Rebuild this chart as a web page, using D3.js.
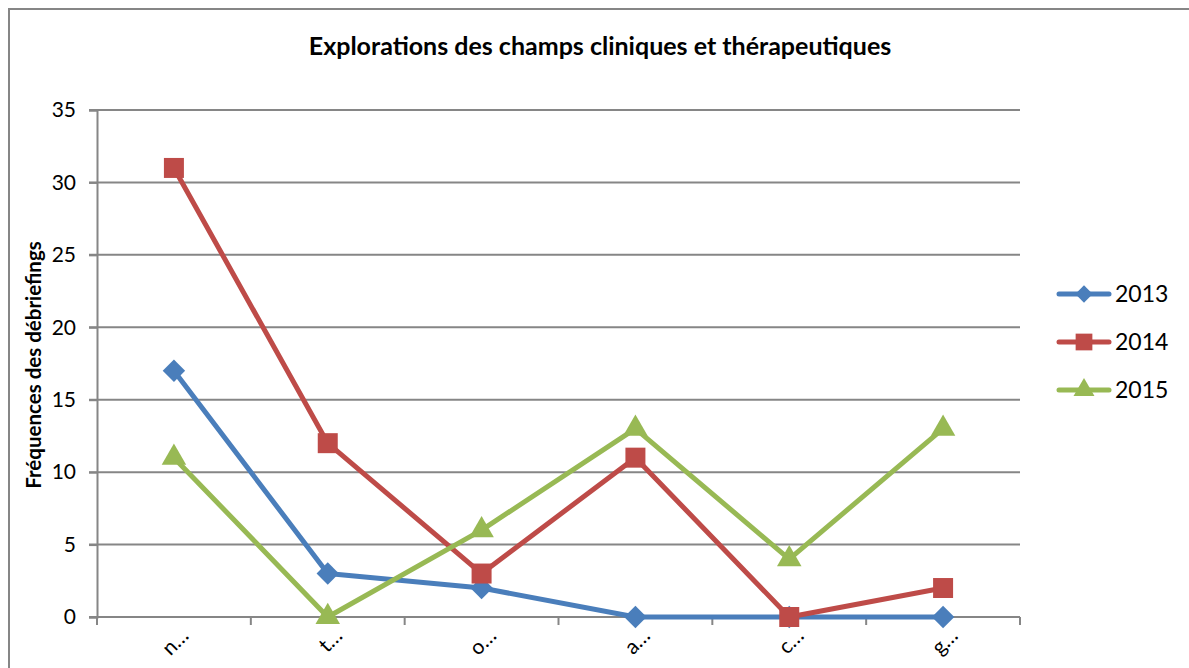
<!DOCTYPE html>
<html>
<head>
<meta charset="utf-8">
<script src="https://cdn.jsdelivr.net/npm/d3@7"></script>
<style>
  body { margin: 0; background: #fff; }
  svg { display: block; font-family: Lato, "Open Sans", sans-serif; }
</style>
</head>
<body>
<div class="chart"></div>
<script>
// data
const categories = ["n…", "t…", "o…", "a…", "c…", "g…"];
const years = ["2013", "2014", "2015"];
const values2013 = [17, 3, 2, 0, 0, 0];
const values2014 = [31, 12, 3, 11, 0, 2];
const values2015 = [11, 0, 6, 13, 4, 13];
const yTicks = [0, 5, 10, 15, 20, 25, 30, 35];

const width = 1189, height = 668;
const margin = { top: 110, left: 97, right: 169, bottom: 51 };
const chartWidth = width - margin.left - margin.right;
const chartHeight = height - margin.top - margin.bottom;

const series = [
  { name: years[0], values: values2013, color: "#4A7EBB", symbol: d3.symbolDiamond2, size: 320, legSize: 190 },
  { name: years[1], values: values2014, color: "#BE4B48", symbol: d3.symbolSquare, size: 400, legSize: 280 },
  { name: years[2], values: values2015, color: "#98B954", symbol: d3.symbolTriangle, size: 260, legSize: 190 }
];

let svg = d3.select(".chart")
  .append("svg")
    .attr("width", width)
    .attr("height", height);

// outer frame
svg.append("rect")
  .attr("x", 9).attr("y", 9)
  .attr("width", 1300).attr("height", 800)
  .attr("fill", "none")
  .attr("stroke", "#868686")
  .attr("stroke-width", 2);

svg.append("text")
  .attr("x", 600).attr("y", 55)
  .attr("text-anchor", "middle")
  .attr("font-size", 25)
  .attr("font-weight", "bold")
  .text("Explorations des champs cliniques et thérapeutiques");

let chart = svg.append("g")
  .attr("transform", "translate(" + margin.left + "," + margin.top + ")");

let x = d3.scaleBand()
  .domain(categories)
  .range([0, chartWidth]);

let y = d3.scaleLinear()
  .domain([0, 35])
  .range([chartHeight, 0]);

// gridlines
chart.append("g")
  .selectAll("line")
  .data(yTicks)
  .join("line")
    .attr("x1", -8).attr("x2", chartWidth)
    .attr("y1", d => y(d)).attr("y2", d => y(d))
    .attr("stroke", "#868686")
    .attr("stroke-width", 2);

// y axis
let yAxis = chart.append("g")
  .call(d3.axisLeft(y).tickValues(yTicks).tickSize(8).tickPadding(13));
yAxis.select(".domain").attr("stroke", "#868686").attr("stroke-width", 2);
yAxis.selectAll(".tick line").attr("stroke", "#868686").attr("stroke-width", 2);
yAxis.selectAll("text")
  .attr("font-size", 21)
  .attr("font-family", "Lato, 'Open Sans', sans-serif")
  .attr("fill", "#000");

// x axis ticks at band edges
let xAxis = chart.append("g")
  .attr("transform", "translate(0," + chartHeight + ")");
xAxis.append("line")
  .attr("x1", 0).attr("x2", chartWidth)
  .attr("stroke", "#868686").attr("stroke-width", 2);
xAxis.selectAll(".edge")
  .data(d3.range(categories.length + 1))
  .join("line")
    .attr("class", "edge")
    .attr("x1", i => i * x.step()).attr("x2", i => i * x.step())
    .attr("y1", 0).attr("y2", 8)
    .attr("stroke", "#868686").attr("stroke-width", 2);
xAxis.selectAll("text")
  .data(categories)
  .join("text")
    .attr("transform", d => "translate(" + (x(d) + x.bandwidth() / 2 + 16) + ",20) rotate(-45)")
    .attr("text-anchor", "end")
    .attr("font-size", 21)
    .text(d => d);

// y label
svg.append("text")
  .attr("transform", "translate(41,365) rotate(-90)")
  .attr("text-anchor", "middle")
  .attr("font-size", 20.5)
  .attr("font-weight", "bold")
  .text("Fréquences des débriefings");

let line = d3.line()
  .x((d, i) => x(categories[i]) + x.bandwidth() / 2)
  .y(d => y(d));

series.forEach(s => {
  chart.append("path")
    .datum(s.values)
    .attr("fill", "none")
    .attr("stroke", s.color)
    .attr("stroke-width", 5)
    .attr("stroke-linejoin", "round")
    .attr("d", line);

  chart.append("g")
    .selectAll("path")
    .data(s.values)
    .join("path")
      .attr("transform", (d, i) => "translate(" + (x(categories[i]) + x.bandwidth() / 2) + "," + y(d) + ")")
      .attr("d", d3.symbol().type(s.symbol).size(s.size))
      .attr("fill", s.color);
});

// legend
let legend = svg.append("g")
  .attr("transform", "translate(1057,294)");
series.forEach((s, i) => {
  let g = legend.append("g").attr("transform", "translate(0," + (i * 48) + ")");
  g.append("line")
    .attr("x1", 2).attr("x2", 52)
    .attr("stroke", s.color).attr("stroke-width", 5)
    .attr("stroke-linecap", "round");
  g.append("path")
    .attr("transform", "translate(27,0)")
    .attr("d", d3.symbol().type(s.symbol).size(s.legSize))
    .attr("fill", s.color);
  g.append("text")
    .attr("x", 58).attr("y", 8)
    .attr("font-size", 23)
    .text(s.name);
});
</script>
</body>
</html>
